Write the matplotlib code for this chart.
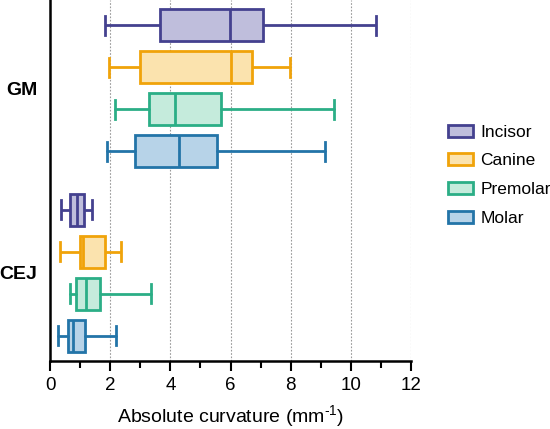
import matplotlib
matplotlib.use('Agg')
import matplotlib.pyplot as plt
from matplotlib.patches import Patch
from matplotlib.ticker import MultipleLocator

plt.rcParams['font.family'] = ['Liberation Sans', 'DejaVu Sans']
plt.rcParams['mathtext.fontset'] = 'custom'
plt.rcParams['mathtext.rm'] = 'Liberation Sans'

# ── データ ───────────────────────────────────
teeth = ['Incisor', 'Canine', 'Premolar', 'Molar']
edge_colors = ['#44418f', '#f0a30a', '#2bae86', '#2374a8']
face_colors = ['#bfbedc', '#fbe3ae', '#c5ebdc', '#b7d3e8']

# [min, Q1, median, Q3, max]
gm_stats = [
    [1.83, 3.66, 5.98, 7.08, 10.84],
    [1.96, 2.99, 6.02, 6.72, 7.98],
    [2.16, 3.28, 4.14, 5.67, 9.45],
    [1.90, 2.83, 4.29, 5.55, 9.14],
]
cej_stats = [
    [0.37, 0.66, 0.89, 1.12, 1.40],
    [0.33, 1.00, 1.10, 1.82, 2.36],
    [0.66, 0.86, 1.20, 1.65, 3.36],
    [0.27, 0.59, 0.75, 1.17, 2.20],
]
gm_pos = [0, 1, 2, 3]
cej_pos = [4.4, 5.4, 6.4, 7.4]
group_labels = ['GM', 'CEJ']

fig = plt.figure(figsize=(5.5, 4.29), dpi=100)
ax = fig.add_axes([50 / 550, 1 - 361 / 429, 361 / 550, 361 / 429])

lw = 2.0
for stats, positions in [(gm_stats, gm_pos), (cej_stats, cej_pos)]:
    for i, (s, p) in enumerate(zip(stats, positions)):
        d = {'whislo': s[0], 'q1': s[1], 'med': s[2], 'q3': s[3], 'whishi': s[4]}
        ec = edge_colors[i]
        cap_round = 'round' if i >= 2 else 'butt'
        ax.bxp([d], positions=[p], widths=0.76, orientation='horizontal',
               patch_artist=True, showfliers=False,
               boxprops=dict(facecolor=face_colors[i], edgecolor=ec, linewidth=lw),
               medianprops=dict(color=ec, linewidth=lw, solid_capstyle='butt'),
               whiskerprops=dict(color=ec, linewidth=lw, solid_capstyle=cap_round),
               capprops=dict(color=ec, linewidth=lw),
               capwidths=0.45,
               manage_ticks=False, zorder=3)

ax.set_xlim(0, 12)
ax.set_ylim(8.0, -0.6)
ax.xaxis.set_major_locator(MultipleLocator(2))
ax.xaxis.set_minor_locator(MultipleLocator(1))
ax.grid(True, axis='x', which='major', color='#9a9a9a', linestyle=(0, (1.5, 1.5)),
        linewidth=0.8, zorder=0)

ax.set_yticks([(gm_pos[0] + gm_pos[-1]) / 2, (cej_pos[0] + cej_pos[-1]) / 2])
ax.set_yticklabels(group_labels, fontsize=14, fontweight='bold')
ax.tick_params(axis='y', length=0, pad=9)
ax.tick_params(axis='x', which='major', length=7.5, width=1.5, labelsize=13.5, pad=4)
ax.tick_params(axis='x', which='minor', length=5, width=1.5)

for side in ['top', 'right']:
    ax.spines[side].set_visible(False)
for side in ['left', 'bottom']:
    ax.spines[side].set_linewidth(1.8)

ax.set_xlabel(r'Absolute curvature (mm$^{\text{-1}}$)', fontsize=14, labelpad=7)

handles = [Patch(facecolor=fc, edgecolor=ec, linewidth=lw)
           for fc, ec in zip(face_colors, edge_colors)]
fig.legend(handles, teeth, loc='upper left', bbox_to_anchor=(432 / 550, 1 - 109 / 429),
           frameon=False, fontsize=12.5, handlelength=1.45, handleheight=0.7,
           labelspacing=0.78, handletextpad=0.45)

fig.savefig('out.png', dpi=100)
